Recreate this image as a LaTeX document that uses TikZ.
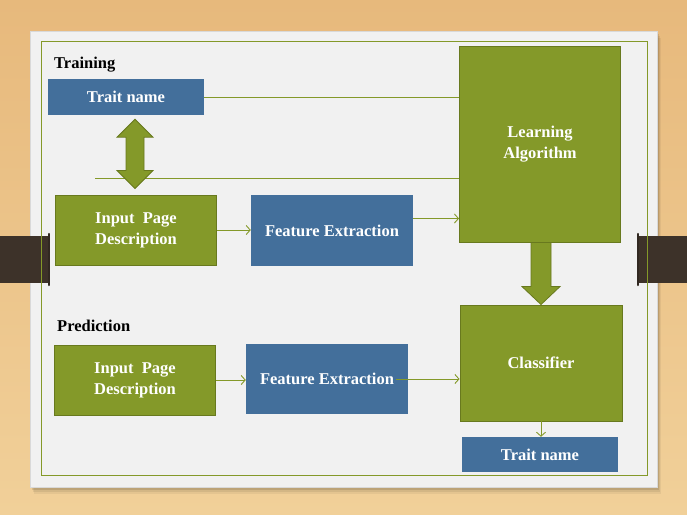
\documentclass[tikz,border=0pt]{standalone}
\usepackage{fontspec}
\setmainfont{Liberation Serif}
\usepackage{xcolor}
\usepackage{tikz}
\usetikzlibrary{arrows.meta,calc}
\definecolor{leafgreen}{RGB}{132,153,41}
\definecolor{leafdark}{RGB}{104,121,30}
\definecolor{slateblue}{RGB}{67,111,155}
\definecolor{woodtop}{RGB}{231,185,124}
\definecolor{woodbot}{RGB}{241,208,153}
\definecolor{paper}{RGB}{241,241,241}
\definecolor{tabbrown}{RGB}{61,50,41}

\begin{document}
\begin{tikzpicture}[x=1pt, y=-1pt,
  greenbox/.style={draw=leafdark, line width=0.9pt, fill=leafgreen, text=white, align=center,
    font=\fontsize{16.5}{21}\selectfont\bfseries, inner sep=0pt},
  bluebox/.style={fill=slateblue, text=white, align=center,
    font=\fontsize{16.5}{21}\selectfont\bfseries, inner sep=0pt},
  phase/.style={anchor=west, font=\fontsize{16.5}{21}\selectfont\bfseries, inner sep=0pt},
  flow/.style={draw=leafgreen, line width=0.9pt, -{Straight Barb[length=4pt,width=9pt]}},
  bigarrow/.style={fill=leafgreen, draw=leafdark, line width=0.8pt, line join=miter}]
\useasboundingbox (0,0) rectangle (687,514);
% background and slide
\shade[top color=woodtop, bottom color=woodbot] (0,0) rectangle (687,514);
\foreach \o/\d in {0.05/7, 0.07/5, 0.1/3}
  \fill[black, opacity=\o] (30+\d/2,31+\d) rectangle (657+\d/2,487+\d);
\fill[paper] (30,31) rectangle (657,487);
\draw[black!15, line width=0.5pt] (30,31) rectangle (657,487);
\fill[tabbrown] (0,236) rectangle (49,283);
\draw[tabbrown!80!black, line width=2.5pt, line cap=round] (49,234) -- (49,285);
\fill[tabbrown] (638,236) rectangle (687,283);
\draw[tabbrown!80!black, line width=2.5pt, line cap=round] (638,234) -- (638,285);
\draw[leafgreen, line width=0.9pt] (41.5,41.5) rectangle (647.5,475);

% training
\node[phase] (train) at (54,65) {Training};
\node[bluebox, minimum width=156pt, minimum height=36pt] (tn1) at (126,97) {Trait name};
\node[greenbox, minimum width=161pt, minimum height=196pt] (la) at (540,144) {Learning\\Algorithm};
\node[greenbox, minimum width=161pt, minimum height=70pt] (ipd1) at (136,230) {Input\ \ Page\\Description};
\node[bluebox, minimum width=162pt, minimum height=71pt] (fe1) at (332,230.5) {Feature Extraction};

% prediction
\node[phase] (pred) at (57,326) {Prediction};
\node[greenbox, minimum width=161pt, minimum height=70pt] (ipd2) at (135,380) {Input\ \ Page\\Description};
\node[bluebox, minimum width=162pt, minimum height=70pt] (fe2) at (327,379) {Feature Extraction};
\node[greenbox, minimum width=162pt, minimum height=116pt] (cls) at (541,363) {Classifier};
\node[bluebox, minimum width=156pt, minimum height=35pt] (tn2) at (540,454.5) {Trait name};

% connectors
\draw[leafgreen, line width=0.9pt] (tn1.east) -- (tn1.east -| la.west);
\coordinate (lstart) at (95,178);
\draw[leafgreen, line width=0.9pt] (lstart) -- (lstart -| la.west);
\draw[flow] (ipd1.east) -- (ipd1.east -| fe1.west);
\draw[flow] ([yshift=12pt]fe1.east) -- ([yshift=12pt]fe1.east -| la.west);
\draw[flow] (ipd2.east) -- (ipd2.east -| fe2.west);
\draw[flow] ([xshift=-12pt]fe2.east) -- (fe2.east -| cls.west);
\draw[flow] (cls.south) -- (cls.south |- tn2.north);

% thick arrows
\coordinate (dtop) at ($(tn1.south)+(9,4)$);
\coordinate (dbot) at ($(ipd1.north)+(-1,-6)$);
\filldraw[bigarrow] (dtop) -- ++(18,18) -- ++(-9,0) -- ($(dbot)+(9,-18)$) -- ++(9,0) -- (dbot)
  -- ++(-18,-18) -- ++(9,0) -- ($(dtop)+(-9,18)$) -- ++(-9,0) -- cycle;
\coordinate (vtop) at (la.south -| cls.north);
\filldraw[bigarrow] ($(vtop)+(-10,0)$) -- ($(cls.north)+(-10,-18)$) -- ++(-9,0) -- (cls.north)
  -- ++(19,-18) -- ++(-9,0) -- ($(vtop)+(10,0)$) -- cycle;
\end{tikzpicture}
\end{document}
